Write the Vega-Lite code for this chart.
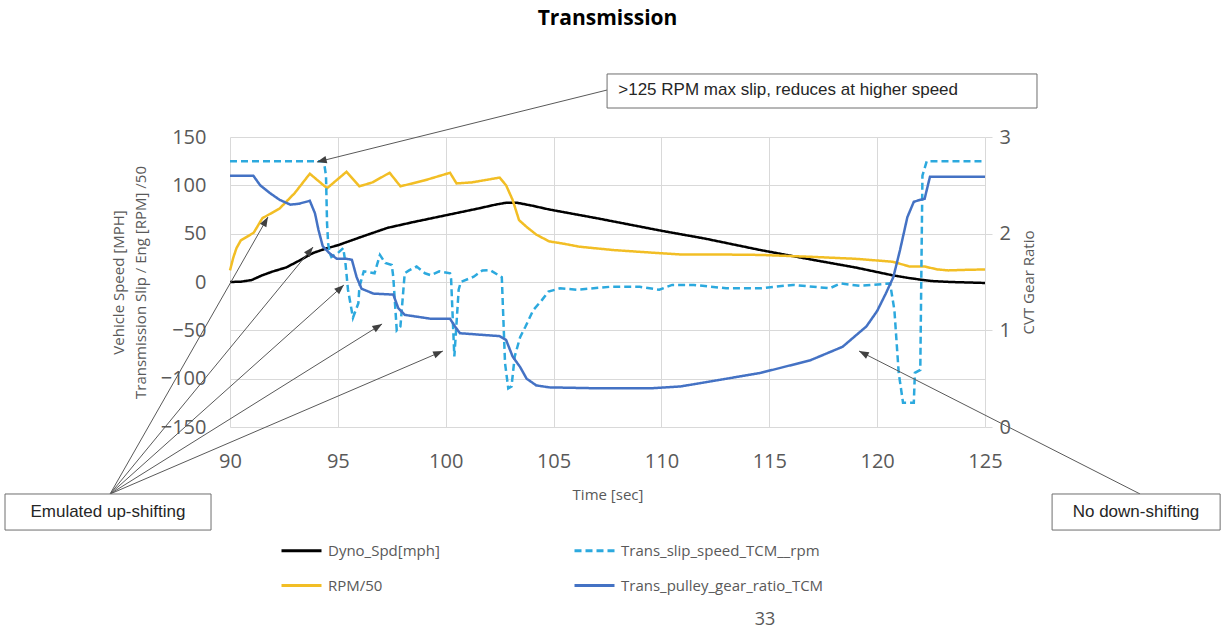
{
  "$schema": "https://vega.github.io/schema/vega-lite/v6.json",
  "width": 755,
  "height": 290,
  "autosize": {"type": "none"},
  "padding": {"left": 230, "top": 137, "right": 240, "bottom": 207},
  "background": "white",
  "title": {"text": "Transmission", "frame": "group", "anchor": "middle", "font": "Open Sans", "fontSize": 21, "fontWeight": "bold", "color": "#000000", "baseline": "bottom", "offset": 23},
  "datasets": {
    "speed": [
      {"t": 90, "v": 0, "s": "Dyno_Spd[mph]"},
      {"t": 90.5, "v": 0.3, "s": "Dyno_Spd[mph]"},
      {"t": 91, "v": 2, "s": "Dyno_Spd[mph]"},
      {"t": 91.5, "v": 7, "s": "Dyno_Spd[mph]"},
      {"t": 92, "v": 11, "s": "Dyno_Spd[mph]"},
      {"t": 92.6, "v": 15, "s": "Dyno_Spd[mph]"},
      {"t": 93.2, "v": 22, "s": "Dyno_Spd[mph]"},
      {"t": 93.85, "v": 30, "s": "Dyno_Spd[mph]"},
      {"t": 94.5, "v": 35, "s": "Dyno_Spd[mph]"},
      {"t": 95, "v": 38, "s": "Dyno_Spd[mph]"},
      {"t": 96, "v": 46, "s": "Dyno_Spd[mph]"},
      {"t": 97.3, "v": 56, "s": "Dyno_Spd[mph]"},
      {"t": 98.5, "v": 62, "s": "Dyno_Spd[mph]"},
      {"t": 100, "v": 69, "s": "Dyno_Spd[mph]"},
      {"t": 101.5, "v": 76, "s": "Dyno_Spd[mph]"},
      {"t": 102.3, "v": 80, "s": "Dyno_Spd[mph]"},
      {"t": 102.8, "v": 82, "s": "Dyno_Spd[mph]"},
      {"t": 103.3, "v": 82, "s": "Dyno_Spd[mph]"},
      {"t": 104, "v": 79, "s": "Dyno_Spd[mph]"},
      {"t": 104.8, "v": 75, "s": "Dyno_Spd[mph]"},
      {"t": 107, "v": 66, "s": "Dyno_Spd[mph]"},
      {"t": 110, "v": 53, "s": "Dyno_Spd[mph]"},
      {"t": 112, "v": 45, "s": "Dyno_Spd[mph]"},
      {"t": 114.6, "v": 33, "s": "Dyno_Spd[mph]"},
      {"t": 117, "v": 23, "s": "Dyno_Spd[mph]"},
      {"t": 119, "v": 15, "s": "Dyno_Spd[mph]"},
      {"t": 120.7, "v": 7, "s": "Dyno_Spd[mph]"},
      {"t": 121.5, "v": 4, "s": "Dyno_Spd[mph]"},
      {"t": 122.5, "v": 1, "s": "Dyno_Spd[mph]"},
      {"t": 123.4, "v": 0, "s": "Dyno_Spd[mph]"},
      {"t": 125, "v": -1, "s": "Dyno_Spd[mph]"},

      {"t": 90, "v": 12, "s": "RPM/50"},
      {"t": 90.15, "v": 25, "s": "RPM/50"},
      {"t": 90.3, "v": 35, "s": "RPM/50"},
      {"t": 90.5, "v": 43, "s": "RPM/50"},
      {"t": 91.1, "v": 51, "s": "RPM/50"},
      {"t": 91.5, "v": 66, "s": "RPM/50"},
      {"t": 92.3, "v": 76, "s": "RPM/50"},
      {"t": 93, "v": 92, "s": "RPM/50"},
      {"t": 93.7, "v": 112, "s": "RPM/50"},
      {"t": 94.5, "v": 97, "s": "RPM/50"},
      {"t": 95.4, "v": 114, "s": "RPM/50"},
      {"t": 96.0, "v": 99, "s": "RPM/50"},
      {"t": 96.6, "v": 103, "s": "RPM/50"},
      {"t": 97.4, "v": 113, "s": "RPM/50"},
      {"t": 97.9, "v": 99, "s": "RPM/50"},
      {"t": 99, "v": 105, "s": "RPM/50"},
      {"t": 100.2, "v": 113, "s": "RPM/50"},
      {"t": 100.5, "v": 102, "s": "RPM/50"},
      {"t": 101.2, "v": 103, "s": "RPM/50"},
      {"t": 102.5, "v": 108, "s": "RPM/50"},
      {"t": 102.8, "v": 100, "s": "RPM/50"},
      {"t": 103.1, "v": 85, "s": "RPM/50"},
      {"t": 103.4, "v": 64, "s": "RPM/50"},
      {"t": 103.75, "v": 57, "s": "RPM/50"},
      {"t": 104.2, "v": 49, "s": "RPM/50"},
      {"t": 104.8, "v": 42, "s": "RPM/50"},
      {"t": 105.5, "v": 39.5, "s": "RPM/50"},
      {"t": 106.2, "v": 36.5, "s": "RPM/50"},
      {"t": 107.8, "v": 33, "s": "RPM/50"},
      {"t": 109.8, "v": 30, "s": "RPM/50"},
      {"t": 110.9, "v": 28.5, "s": "RPM/50"},
      {"t": 112.5, "v": 28.5, "s": "RPM/50"},
      {"t": 114.6, "v": 28, "s": "RPM/50"},
      {"t": 117, "v": 26, "s": "RPM/50"},
      {"t": 119, "v": 24, "s": "RPM/50"},
      {"t": 120.7, "v": 21, "s": "RPM/50"},
      {"t": 121.2, "v": 18, "s": "RPM/50"},
      {"t": 121.5, "v": 16, "s": "RPM/50"},
      {"t": 122.2, "v": 16, "s": "RPM/50"},
      {"t": 122.8, "v": 13, "s": "RPM/50"},
      {"t": 123.3, "v": 12, "s": "RPM/50"},
      {"t": 124, "v": 12.5, "s": "RPM/50"},
      {"t": 125, "v": 13, "s": "RPM/50"},

      {"t": 90, "v": 125, "s": "Trans_slip_speed_TCM__rpm"},
      {"t": 94.35, "v": 125, "s": "Trans_slip_speed_TCM__rpm"},
      {"t": 94.45, "v": 110, "s": "Trans_slip_speed_TCM__rpm"},
      {"t": 94.5, "v": 60, "s": "Trans_slip_speed_TCM__rpm"},
      {"t": 94.55, "v": 40, "s": "Trans_slip_speed_TCM__rpm"},
      {"t": 94.62, "v": 30, "s": "Trans_slip_speed_TCM__rpm"},
      {"t": 94.7, "v": 26, "s": "Trans_slip_speed_TCM__rpm"},
      {"t": 95.0, "v": 30, "s": "Trans_slip_speed_TCM__rpm"},
      {"t": 95.25, "v": 35, "s": "Trans_slip_speed_TCM__rpm"},
      {"t": 95.35, "v": 20, "s": "Trans_slip_speed_TCM__rpm"},
      {"t": 95.47, "v": -8, "s": "Trans_slip_speed_TCM__rpm"},
      {"t": 95.7, "v": -37, "s": "Trans_slip_speed_TCM__rpm"},
      {"t": 95.95, "v": -22, "s": "Trans_slip_speed_TCM__rpm"},
      {"t": 96.0, "v": -5, "s": "Trans_slip_speed_TCM__rpm"},
      {"t": 96.2, "v": 11, "s": "Trans_slip_speed_TCM__rpm"},
      {"t": 96.45, "v": 10, "s": "Trans_slip_speed_TCM__rpm"},
      {"t": 96.7, "v": 9, "s": "Trans_slip_speed_TCM__rpm"},
      {"t": 96.95, "v": 28, "s": "Trans_slip_speed_TCM__rpm"},
      {"t": 97.2, "v": 19.6, "s": "Trans_slip_speed_TCM__rpm"},
      {"t": 97.5, "v": 17.6, "s": "Trans_slip_speed_TCM__rpm"},
      {"t": 97.57, "v": 5, "s": "Trans_slip_speed_TCM__rpm"},
      {"t": 97.73, "v": -50, "s": "Trans_slip_speed_TCM__rpm"},
      {"t": 97.9, "v": -46, "s": "Trans_slip_speed_TCM__rpm"},
      {"t": 98.1, "v": 9, "s": "Trans_slip_speed_TCM__rpm"},
      {"t": 98.3, "v": 12, "s": "Trans_slip_speed_TCM__rpm"},
      {"t": 98.65, "v": 16, "s": "Trans_slip_speed_TCM__rpm"},
      {"t": 99.04, "v": 9, "s": "Trans_slip_speed_TCM__rpm"},
      {"t": 99.3, "v": 7, "s": "Trans_slip_speed_TCM__rpm"},
      {"t": 99.7, "v": 11, "s": "Trans_slip_speed_TCM__rpm"},
      {"t": 100.2, "v": 9, "s": "Trans_slip_speed_TCM__rpm"},
      {"t": 100.25, "v": 3, "s": "Trans_slip_speed_TCM__rpm"},
      {"t": 100.4, "v": -77, "s": "Trans_slip_speed_TCM__rpm"},
      {"t": 100.48, "v": -50, "s": "Trans_slip_speed_TCM__rpm"},
      {"t": 100.6, "v": -8, "s": "Trans_slip_speed_TCM__rpm"},
      {"t": 100.7, "v": 0, "s": "Trans_slip_speed_TCM__rpm"},
      {"t": 101.3, "v": 5.5, "s": "Trans_slip_speed_TCM__rpm"},
      {"t": 101.7, "v": 12, "s": "Trans_slip_speed_TCM__rpm"},
      {"t": 102.05, "v": 12.4, "s": "Trans_slip_speed_TCM__rpm"},
      {"t": 102.45, "v": 7, "s": "Trans_slip_speed_TCM__rpm"},
      {"t": 102.6, "v": 5, "s": "Trans_slip_speed_TCM__rpm"},
      {"t": 102.75, "v": -84, "s": "Trans_slip_speed_TCM__rpm"},
      {"t": 102.9, "v": -110, "s": "Trans_slip_speed_TCM__rpm"},
      {"t": 103.05, "v": -108, "s": "Trans_slip_speed_TCM__rpm"},
      {"t": 103.2, "v": -77, "s": "Trans_slip_speed_TCM__rpm"},
      {"t": 103.45, "v": -57, "s": "Trans_slip_speed_TCM__rpm"},
      {"t": 103.7, "v": -46, "s": "Trans_slip_speed_TCM__rpm"},
      {"t": 104.06, "v": -29, "s": "Trans_slip_speed_TCM__rpm"},
      {"t": 104.45, "v": -19, "s": "Trans_slip_speed_TCM__rpm"},
      {"t": 104.76, "v": -10, "s": "Trans_slip_speed_TCM__rpm"},
      {"t": 105.3, "v": -6.5, "s": "Trans_slip_speed_TCM__rpm"},
      {"t": 106.07, "v": -8, "s": "Trans_slip_speed_TCM__rpm"},
      {"t": 107.6, "v": -5, "s": "Trans_slip_speed_TCM__rpm"},
      {"t": 109, "v": -5, "s": "Trans_slip_speed_TCM__rpm"},
      {"t": 109.9, "v": -8, "s": "Trans_slip_speed_TCM__rpm"},
      {"t": 110.5, "v": -3, "s": "Trans_slip_speed_TCM__rpm"},
      {"t": 111.5, "v": -3, "s": "Trans_slip_speed_TCM__rpm"},
      {"t": 113, "v": -6.5, "s": "Trans_slip_speed_TCM__rpm"},
      {"t": 114.6, "v": -6.5, "s": "Trans_slip_speed_TCM__rpm"},
      {"t": 116.1, "v": -3, "s": "Trans_slip_speed_TCM__rpm"},
      {"t": 117.8, "v": -6.5, "s": "Trans_slip_speed_TCM__rpm"},
      {"t": 118.3, "v": -1.5, "s": "Trans_slip_speed_TCM__rpm"},
      {"t": 119.2, "v": -4, "s": "Trans_slip_speed_TCM__rpm"},
      {"t": 120.6, "v": -1.5, "s": "Trans_slip_speed_TCM__rpm"},
      {"t": 120.8, "v": -29, "s": "Trans_slip_speed_TCM__rpm"},
      {"t": 121.0, "v": -94, "s": "Trans_slip_speed_TCM__rpm"},
      {"t": 121.2, "v": -125, "s": "Trans_slip_speed_TCM__rpm"},
      {"t": 121.7, "v": -125, "s": "Trans_slip_speed_TCM__rpm"},
      {"t": 121.75, "v": -94, "s": "Trans_slip_speed_TCM__rpm"},
      {"t": 122.0, "v": -91, "s": "Trans_slip_speed_TCM__rpm"},
      {"t": 122.05, "v": 10, "s": "Trans_slip_speed_TCM__rpm"},
      {"t": 122.1, "v": 110, "s": "Trans_slip_speed_TCM__rpm"},
      {"t": 122.3, "v": 125, "s": "Trans_slip_speed_TCM__rpm"},
      {"t": 125, "v": 125, "s": "Trans_slip_speed_TCM__rpm"}
    ],
    "ratio": [
      {"t": 90, "r": 2.6, "s": "Trans_pulley_gear_ratio_TCM"},
      {"t": 91.08, "r": 2.6, "s": "Trans_pulley_gear_ratio_TCM"},
      {"t": 91.4, "r": 2.5, "s": "Trans_pulley_gear_ratio_TCM"},
      {"t": 91.85, "r": 2.42, "s": "Trans_pulley_gear_ratio_TCM"},
      {"t": 92.3, "r": 2.35, "s": "Trans_pulley_gear_ratio_TCM"},
      {"t": 92.8, "r": 2.3, "s": "Trans_pulley_gear_ratio_TCM"},
      {"t": 93.2, "r": 2.31, "s": "Trans_pulley_gear_ratio_TCM"},
      {"t": 93.7, "r": 2.34, "s": "Trans_pulley_gear_ratio_TCM"},
      {"t": 93.94, "r": 2.21, "s": "Trans_pulley_gear_ratio_TCM"},
      {"t": 94.1, "r": 2.04, "s": "Trans_pulley_gear_ratio_TCM"},
      {"t": 94.3, "r": 1.87, "s": "Trans_pulley_gear_ratio_TCM"},
      {"t": 94.6, "r": 1.8, "s": "Trans_pulley_gear_ratio_TCM"},
      {"t": 94.95, "r": 1.74, "s": "Trans_pulley_gear_ratio_TCM"},
      {"t": 95.4, "r": 1.74, "s": "Trans_pulley_gear_ratio_TCM"},
      {"t": 95.65, "r": 1.73, "s": "Trans_pulley_gear_ratio_TCM"},
      {"t": 95.87, "r": 1.55, "s": "Trans_pulley_gear_ratio_TCM"},
      {"t": 96.1, "r": 1.43, "s": "Trans_pulley_gear_ratio_TCM"},
      {"t": 96.65, "r": 1.38, "s": "Trans_pulley_gear_ratio_TCM"},
      {"t": 97.57, "r": 1.37, "s": "Trans_pulley_gear_ratio_TCM"},
      {"t": 97.8, "r": 1.23, "s": "Trans_pulley_gear_ratio_TCM"},
      {"t": 98.1, "r": 1.16, "s": "Trans_pulley_gear_ratio_TCM"},
      {"t": 99.3, "r": 1.12, "s": "Trans_pulley_gear_ratio_TCM"},
      {"t": 100.2, "r": 1.12, "s": "Trans_pulley_gear_ratio_TCM"},
      {"t": 100.43, "r": 1.04, "s": "Trans_pulley_gear_ratio_TCM"},
      {"t": 100.66, "r": 0.97, "s": "Trans_pulley_gear_ratio_TCM"},
      {"t": 102.5, "r": 0.94, "s": "Trans_pulley_gear_ratio_TCM"},
      {"t": 102.8, "r": 0.9, "s": "Trans_pulley_gear_ratio_TCM"},
      {"t": 103.1, "r": 0.73, "s": "Trans_pulley_gear_ratio_TCM"},
      {"t": 103.45, "r": 0.62, "s": "Trans_pulley_gear_ratio_TCM"},
      {"t": 103.75, "r": 0.5, "s": "Trans_pulley_gear_ratio_TCM"},
      {"t": 104.2, "r": 0.43, "s": "Trans_pulley_gear_ratio_TCM"},
      {"t": 104.8, "r": 0.41, "s": "Trans_pulley_gear_ratio_TCM"},
      {"t": 107.15, "r": 0.4, "s": "Trans_pulley_gear_ratio_TCM"},
      {"t": 109.5, "r": 0.4, "s": "Trans_pulley_gear_ratio_TCM"},
      {"t": 110.9, "r": 0.42, "s": "Trans_pulley_gear_ratio_TCM"},
      {"t": 112.5, "r": 0.48, "s": "Trans_pulley_gear_ratio_TCM"},
      {"t": 114.6, "r": 0.56, "s": "Trans_pulley_gear_ratio_TCM"},
      {"t": 116.9, "r": 0.69, "s": "Trans_pulley_gear_ratio_TCM"},
      {"t": 118.4, "r": 0.83, "s": "Trans_pulley_gear_ratio_TCM"},
      {"t": 119.5, "r": 1.04, "s": "Trans_pulley_gear_ratio_TCM"},
      {"t": 120.0, "r": 1.2, "s": "Trans_pulley_gear_ratio_TCM"},
      {"t": 120.4, "r": 1.38, "s": "Trans_pulley_gear_ratio_TCM"},
      {"t": 120.75, "r": 1.55, "s": "Trans_pulley_gear_ratio_TCM"},
      {"t": 121.06, "r": 1.83, "s": "Trans_pulley_gear_ratio_TCM"},
      {"t": 121.2, "r": 1.97, "s": "Trans_pulley_gear_ratio_TCM"},
      {"t": 121.4, "r": 2.17, "s": "Trans_pulley_gear_ratio_TCM"},
      {"t": 121.7, "r": 2.33, "s": "Trans_pulley_gear_ratio_TCM"},
      {"t": 122.0, "r": 2.35, "s": "Trans_pulley_gear_ratio_TCM"},
      {"t": 122.2, "r": 2.36, "s": "Trans_pulley_gear_ratio_TCM"},
      {"t": 122.45, "r": 2.59, "s": "Trans_pulley_gear_ratio_TCM"},
      {"t": 125, "r": 2.59, "s": "Trans_pulley_gear_ratio_TCM"}
    ],
    "arrows": [
      {"x": 107.48, "y": 198.6, "x2": 94.03, "y2": 124.1},
      {"x": 84.44, "y": -219.3, "x2": 91.76, "y2": 67.2},
      {"x": 84.44, "y": -219.3, "x2": 93.85, "y2": 36.2},
      {"x": 84.44, "y": -219.3, "x2": 95.28, "y2": -3.1},
      {"x": 84.44, "y": -219.3, "x2": 97.05, "y2": -43.4},
      {"x": 84.44, "y": -219.3, "x2": 99.87, "y2": -71.4},
      {"x": 132.19, "y": -219.3, "x2": 119.16, "y2": -71.4}
    ],
    "boxes": [
      {"x": 107.48, "x2": 127.41, "y": 215.2, "y2": 180.0},
      {"x": 79.57, "x2": 89.12, "y": -219.3, "y2": -256.6},
      {"x": 128.11, "x2": 135.9, "y": -219.3, "y2": -256.6}
    ],
    "notes_left": [
      {"x": 108.0, "y": 198.6, "label": ">125 RPM max slip, reduces at higher speed"}
    ],
    "notes_center": [
      {"x": 84.34, "y": -237.9, "label": "Emulated up-shifting"},
      {"x": 132.0, "y": -237.9, "label": "No down-shifting"}
    ],
    "page": [
      {"x": 114.8, "y": -349.7, "label": "33"}
    ]
  },
  "layer": [
    {
      "layer": [
        {
          "data": {"name": "speed"},
          "mark": {"type": "line", "strokeWidth": 2.5},
          "encoding": {
            "x": {"field": "t", "type": "quantitative", "scale": {"domain": [90, 125], "nice": false, "zero": false},
                  "axis": {"values": [90, 95, 100, 105, 110, 115, 120, 125], "grid": true, "labelPadding": 24, "labelFlush": false, "labelOverlap": false, "title": "Time [sec]", "titlePadding": 16}},
            "y": {"field": "v", "type": "quantitative", "scale": {"domain": [-150, 150], "nice": false, "zero": false},
                  "axis": {"values": [-150, -100, -50, 0, 50, 100, 150], "grid": true, "labelPadding": 24, "labelFlush": false, "labelOverlap": false, "title": ["Vehicle Speed [MPH]", "Transmission Slip / Eng [RPM] /50"], "titlePadding": 12, "titleLineHeight": 22}},
            "color": {"field": "s", "type": "nominal",
                      "scale": {"domain": ["Dyno_Spd[mph]", "RPM/50", "Trans_slip_speed_TCM__rpm", "Trans_pulley_gear_ratio_TCM"], "range": ["#000000", "#F2BE25", "#2CA9DE", "#4472C4"]},
                      "legend": {"title": null}},
            "strokeDash": {"field": "s", "type": "nominal",
                      "scale": {"domain": ["Dyno_Spd[mph]", "RPM/50", "Trans_slip_speed_TCM__rpm", "Trans_pulley_gear_ratio_TCM"], "range": [[1, 0], [1, 0], [7, 4], [1, 0]]},
                      "legend": {"title": null}}
          }
        },
        {
          "data": {"name": "arrows"},
          "mark": {"type": "rule", "color": "#595959", "strokeWidth": 1, "clip": false},
          "encoding": {
            "x": {"field": "x", "type": "quantitative", "scale": {"domain": [90, 125], "nice": false, "zero": false}},
            "x2": {"field": "x2"},
            "y": {"field": "y", "type": "quantitative", "scale": {"domain": [-150, 150], "nice": false, "zero": false}},
            "y2": {"field": "y2"}
          }
        },
        {
          "data": {"name": "arrows"},
          "transform": [
            {"calculate": "atan2((datum.x2 - datum.x) * 755 / 35, (datum.y2 - datum.y) * 290 / 300) * 180 / PI", "as": "angle"}
          ],
          "mark": {"type": "point", "shape": "M0,0L0.38,1L-0.38,1Z", "filled": true, "color": "#404040", "opacity": 1, "size": 380, "clip": false},
          "encoding": {
            "x": {"field": "x2", "type": "quantitative", "scale": {"domain": [90, 125], "nice": false, "zero": false}},
            "y": {"field": "y2", "type": "quantitative", "scale": {"domain": [-150, 150], "nice": false, "zero": false}},
            "angle": {"field": "angle", "type": "quantitative", "scale": null}
          }
        },
        {
          "data": {"name": "boxes"},
          "mark": {"type": "rect", "fill": "white", "stroke": "#6E6E6E", "strokeWidth": 1, "clip": false},
          "encoding": {
            "x": {"field": "x", "type": "quantitative", "scale": {"domain": [90, 125], "nice": false, "zero": false}},
            "x2": {"field": "x2"},
            "y": {"field": "y", "type": "quantitative", "scale": {"domain": [-150, 150], "nice": false, "zero": false}},
            "y2": {"field": "y2"}
          }
        },
        {
          "data": {"name": "notes_left"},
          "mark": {"type": "text", "align": "left", "baseline": "middle", "font": "Liberation Sans", "fontSize": 17, "color": "#262626", "clip": false},
          "encoding": {
            "x": {"field": "x", "type": "quantitative", "scale": {"domain": [90, 125], "nice": false, "zero": false}},
            "y": {"field": "y", "type": "quantitative", "scale": {"domain": [-150, 150], "nice": false, "zero": false}},
            "text": {"field": "label"}
          }
        },
        {
          "data": {"name": "notes_center"},
          "mark": {"type": "text", "align": "center", "baseline": "middle", "font": "Liberation Sans", "fontSize": 17, "color": "#262626", "clip": false},
          "encoding": {
            "x": {"field": "x", "type": "quantitative", "scale": {"domain": [90, 125], "nice": false, "zero": false}},
            "y": {"field": "y", "type": "quantitative", "scale": {"domain": [-150, 150], "nice": false, "zero": false}},
            "text": {"field": "label"}
          }
        },
        {
          "data": {"name": "page"},
          "mark": {"type": "text", "align": "center", "baseline": "middle", "font": "Open Sans", "fontSize": 18, "color": "#595959", "clip": false},
          "encoding": {
            "x": {"field": "x", "type": "quantitative", "scale": {"domain": [90, 125], "nice": false, "zero": false}},
            "y": {"field": "y", "type": "quantitative", "scale": {"domain": [-150, 150], "nice": false, "zero": false}},
            "text": {"field": "label"}
          }
        }
      ]
    },
    {
      "data": {"name": "ratio"},
      "mark": {"type": "line", "strokeWidth": 2.5},
      "encoding": {
        "x": {"field": "t", "type": "quantitative", "scale": {"domain": [90, 125], "nice": false, "zero": false}},
        "y": {"field": "r", "type": "quantitative", "scale": {"domain": [0, 3], "nice": false, "zero": false},
              "axis": {"orient": "right", "values": [0, 1, 2, 3], "format": "d", "grid": false, "ticks": true, "tickSize": 7, "tickColor": "#D9D9D9", "labelPadding": 7, "labelFlush": false, "labelOverlap": false, "title": "CVT Gear Ratio", "titleAngle": -90, "titleBaseline": "top", "titlePadding": 11}},
        "color": {"field": "s", "type": "nominal",
                  "scale": {"domain": ["Dyno_Spd[mph]", "RPM/50", "Trans_slip_speed_TCM__rpm", "Trans_pulley_gear_ratio_TCM"], "range": ["#000000", "#F2BE25", "#2CA9DE", "#4472C4"]},
                  "legend": {"title": null}},
        "strokeDash": {"field": "s", "type": "nominal",
                  "scale": {"domain": ["Dyno_Spd[mph]", "RPM/50", "Trans_slip_speed_TCM__rpm", "Trans_pulley_gear_ratio_TCM"], "range": [[1, 0], [1, 0], [7, 4], [1, 0]]},
                  "legend": {"title": null}}
      }
    }
  ],
  "resolve": {"scale": {"y": "independent"}},
  "config": {
    "view": {"stroke": null},
    "font": "Open Sans",
    "axis": {
      "labelFont": "Open Sans", "titleFont": "Open Sans",
      "labelColor": "#595959", "titleColor": "#595959",
      "labelFontSize": 20, "titleFontSize": 15, "titleFontWeight": "normal",
      "gridColor": "#D9D9D9", "gridWidth": 1, "domain": false, "ticks": false
    },
    "legend": {
      "orient": "none", "legendX": 50, "legendY": 392, "columns": 2, "columnPadding": 128, "rowPadding": 5, "padding": 0,
      "symbolType": "stroke", "symbolSize": 1600, "symbolStrokeWidth": 3,
      "labelFont": "Open Sans", "labelFontSize": 15, "labelColor": "#595959", "labelOffset": 5, "labelLimit": 400
    }
  }
}
